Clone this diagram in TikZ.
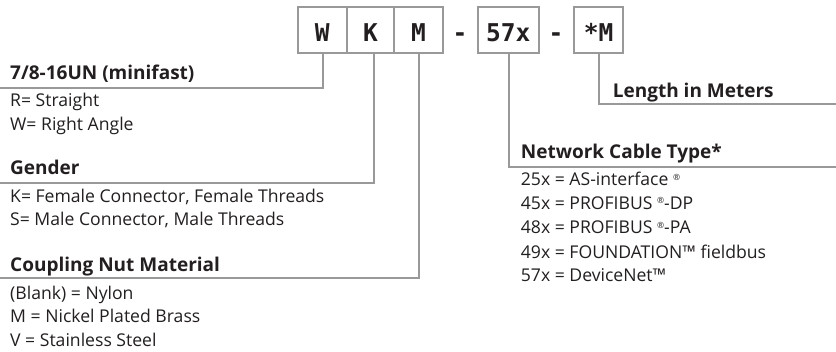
\documentclass[tikz,border=0pt]{standalone}
\usepackage{fontspec}
\setmainfont{Open Sans}
\newfontfamily\codefont{DejaVu Sans Mono}
\definecolor{linegray}{HTML}{999999}
\definecolor{ink}{HTML}{231F20}
\newcommand{\regmark}{\raisebox{0.6ex}{\fontsize{8.5}{8.5}\selectfont ®}}
\begin{document}
\begin{tikzpicture}[x=1pt,y=-1pt,
  conn/.style={draw=linegray, line width=2pt},
  codebox/.style={draw=linegray, line width=2pt, minimum height=46pt, inner sep=0pt,
    text height=22.8pt, text depth=0pt, text=ink,
    font=\codefont\bfseries\fontsize{24.5}{24.5}\selectfont},
  dashtxt/.style={inner sep=0pt, text height=22.8pt, text depth=0pt, text=ink,
    font=\codefont\bfseries\fontsize{24.5}{24.5}\selectfont},
  head/.style={anchor=base west, inner sep=0pt, text=ink, font=\bfseries\fontsize{19}{22}\selectfont},
  item/.style={anchor=base west, inner sep=0pt, text=ink, font=\fontsize{17.6}{21}\selectfont},
]
\useasboundingbox (0,0) rectangle (836,352);
\fill[white] (0,0) rectangle (836,352);

% code boxes
\node[codebox, minimum width=49pt] (bW) at (322.2,30.3) {W};
\node[codebox, minimum width=47.3pt] (bK) at (370.4,30.3) {K};
\node[codebox, minimum width=48.7pt] (bM) at (418.4,30.3) {M};
\node[dashtxt] (d1) at (460,30.3) {-};
\node[codebox, minimum width=61.3pt] (b57) at (508.3,30.3) {57x};
\node[dashtxt] (d2) at (556,30.3) {-};
\node[codebox, minimum width=49.3pt] (bS) at (598.7,30.3) {*M};

% line end coordinates
\coordinate (eW) at (0,88.3);
\coordinate (eK) at (0,182.7);
\coordinate (eM) at (0,278.5);
\coordinate (e57) at (836,166.7);
\coordinate (eS) at (836,104);

\draw[conn] (eW) -| ([xshift=1pt]bW.south);
\draw[conn] (eK) -| ([xshift=3.6pt]bK.south);
\draw[conn] (eM) -| ([xshift=0.6pt]bM.south);
\draw[conn] (e57) -| ([xshift=0.7pt]b57.south);
\draw[conn] (eS) -| ([xshift=0.6pt]bS.south);

% left texts
\node[head] (h1) at (10,80) {7/8-16UN (minifast)};
\node[item] (t1a) at (10,106.7) {R= Straight};
\node[item] (t1b) at (10,131) {W= Right Angle};

\node[head] (h2) at (10,175) {Gender};
\node[item] (t2a) at (10,202.5) {K= Female Connector, Female Threads};
\node[item] (t2b) at (10,226) {S= Male Connector, Male Threads};

\node[head] (h3) at (10,271.7) {Coupling Nut Material};
\node[item] (t3a) at (10,299.3) {(Blank) = Nylon};
\node[item] (t3b) at (10,322.3) {M = Nickel Plated Brass};
\node[item] (t3c) at (10,346.7) {V = Stainless Steel};

% right texts
\node[head] (h4) at (612.7,97.7) {Length in Meters};
\node[head] (h5) at (520.7,158.3) {Network Cable Type*};
\node[item] (t5a) at (520.7,186) {25x = AS-interface \regmark};
\node[item] (t5b) at (520.7,209.3) {45x = PROFIBUS \regmark-DP};
\node[item] (t5c) at (520.7,234) {48x = PROFIBUS \regmark-PA};
\node[item] (t5d) at (520.7,258.3) {49x = FOUNDATION™ fieldbus};
\node[item] (t5e) at (520.7,281.7) {57x = DeviceNet™};
\end{tikzpicture}
\end{document}
